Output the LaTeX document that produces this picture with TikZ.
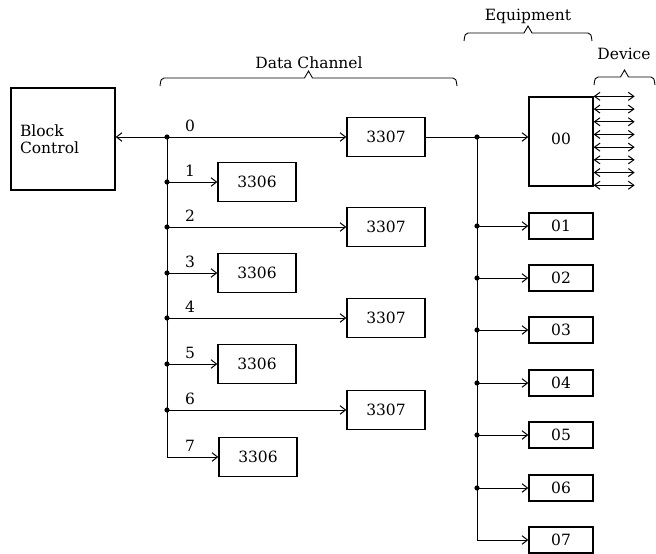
\documentclass[tikz,border=0pt]{standalone}
\usepackage{fontspec}
\setmainfont{DejaVu Serif}
\usetikzlibrary{arrows.meta}

% brace over a group: left x, right x, y of the bar
\newcommand{\drawBrace}[3]{%
    \draw[brace] (#1,#3+8) .. controls (#1+1,#3+1) .. (#1+4,#3)
        -- ({(#1+#2)/2-4},#3) -- ({(#1+#2)/2},#3-7) -- ({(#1+#2)/2+4},#3)
        -- (#2-4,#3) .. controls (#2-1,#3+1) .. (#2,#3+8);
}

\begin{document}
\begin{tikzpicture}[x=1pt, y=-1pt,
    font=\fontsize{15.5}{17.5}\selectfont,
    box/.style={draw, line width=1.3pt, inner sep=0pt},
    chanbox/.style={box, minimum width=78pt, minimum height=39pt},
    eqbox/.style={box, minimum width=64pt, minimum height=26pt},
    line/.style={line width=1pt},
    arr/.style={line, -{Straight Barb[length=5.5pt,width=8.5pt]}},
    darr/.style={line, {Straight Barb[length=5.5pt,width=8pt]}-{Straight Barb[length=5.5pt,width=8pt]}},
    brace/.style={line width=0.9pt},
    dot/.style={fill=black}]

    \useasboundingbox (0,0) rectangle (656,554);

    \node[box, minimum width=104pt, minimum height=102pt, text width=86pt, align=left] (bc) at (63,139) {Block\\Control};

    % data channels
    \foreach \i/\x/\y/\kind in {0/386/137/3307, 1/257/182/3306, 2/386/227/3307, 3/257/273/3306,
                                4/386/318/3307, 5/257/364/3306, 6/386/410/3307, 7/258/457/3306}
    {
        \node[chanbox] (ch\i) at (\x,\y) {\kind};
        \coordinate (cj\i) at (167,\y);
        \draw[arr] (cj\i) -- (ch\i.west);
        \node[anchor=base] (num\i) at (190,\y-6) {\i};
    }
    \draw[line] (cj0) -- (cj7);
    \draw[arr] (cj0) -- (bc.east |- cj0);
    \foreach \i in {0,...,6}
        \fill[dot] (cj\i) circle (2.6pt);

    % equipment
    \node[eqbox, minimum height=89pt] (e0) at (561,141.5) {\raisebox{6pt}{00}};
    \coordinate (ej0) at (477,137);
    \draw[line] (ch0.east) -- (ej0);
    \draw[arr] (ej0) -- (e0.west |- ej0);
    \foreach \i/\y in {1/226, 2/278, 3/330, 4/383, 5/435, 6/488, 7/540}
    {
        \node[eqbox] (e\i) at (561,\y) {0\i};
        \coordinate (ej\i) at (477,\y);
        \draw[arr] (ej\i) -- (e\i.west);
    }
    \draw[line] (ej0) -- (ej7);
    \foreach \i in {0,...,6}
        \fill[dot] (ej\i) circle (2.6pt);

    % devices
    \foreach \k in {0,...,7}
    {
        \path (e0.north east) ++(0,\k*12.7) coordinate (da\k) ++(41,0) coordinate (db\k);
        \draw[darr] (da\k) -- (db\k);
    }

    % braces
    \drawBrace{160}{457}{78}
    \node[anchor=base] (dcLabel) at (309,68) {Data Channel};
    \drawBrace{464}{592}{33}
    \node[anchor=base] (eqLabel) at (528,20) {Equipment};
    \drawBrace{594}{655}{77}
    \node[anchor=base] (devLabel) at (624,59) {Device};

\end{tikzpicture}
\end{document}
